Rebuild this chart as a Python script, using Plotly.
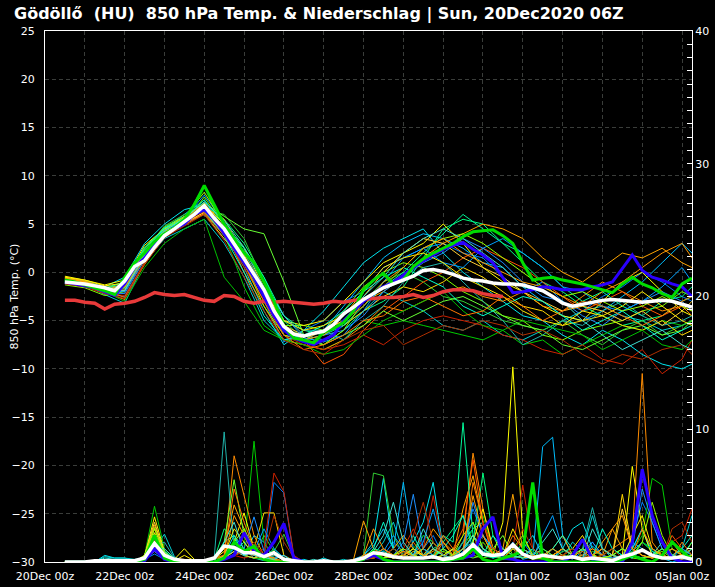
import pandas as pd
import plotly.graph_objects as go

# ensemble chart: 850 hPa temperature (left axis) + 6h precipitation (right axis)

run_title = "Gödöllő\u00a0\u00a0(HU)\u00a0\u00a0850 hPa Temp. & Niederschlag | Sun, 20Dec2020 06Z"
y_title = "850 hPa Temp. (°C)"

# time axes: 6-hourly for the highlighted runs, 12-hourly for the members
times6 = pd.date_range("2020-12-20 12:00", "2021-01-05 06:00", freq="6h")
times12 = list(pd.date_range("2020-12-20 12:00", "2021-01-05 00:00", freq="12h")) + [pd.Timestamp("2021-01-05 06:00")]

member_colors = ["#00bfff", "#0080ff", "#00e5ee", "#00ced1", "#00ff7f", "#00cc00", "#32cd32",
                 "#7cfc00", "#ffff00", "#ffd700", "#ffa500", "#ff8c00", "#ff5500", "#cc2200",
                 "#00fa9a", "#1e90ff", "#20b2aa", "#00c000", "#66ff33", "#ffcc33",
                 "#00a0ff", "#00ffcc", "#99ff00", "#ffee00", "#ff9900", "#ff7700", "#b03000", "#40e0d0"]

member_temp = [
    [-0.8, -1.1, -1.9, -1.5, 2.0, 4.5, 6.0, 7.5, 4.5, 1.5, -2.0, -6.5, -7.0, -6.0, -3.5, -1.0, 1.5, 3.0, 4.0, 3.5, 2.5, 1.0, 0.5, -1.5, -3.0, -4.5, -5.0, -4.0, -2.5, -1.0, 1.0, 3.0, 2.0],
    [-1.2, -1.4, -2.2, -2.5, 1.0, 4.0, 5.0, 6.0, 3.5, 1.0, -3.0, -7.2, -6.0, -5.0, -3.0, -2.0, 0.5, 1.5, 2.5, 3.0, 2.0, 1.5, -0.5, -2.0, -1.0, -3.0, -4.0, -2.5, -1.5, 0.0, -1.0, -2.5, -3.0],
    [-0.6, -0.9, -1.5, -0.5, 3.0, 5.0, 6.5, 7.0, 4.0, 0.5, -4.0, -7.5, -6.0, -4.0, -1.5, 1.0, 2.5, 3.5, 4.5, 2.0, 0.0, -1.5, -3.0, -4.5, -5.0, -6.5, -7.5, -6.0, -7.0, -8.5, -9.5, -10.0, -9.5],
    [-1.0, -1.3, -2.3, -3.2, 1.0, 3.5, 4.5, 5.5, 3.0, -0.5, -5.0, -7.0, -6.5, -7.0, -5.5, -4.0, -2.0, -3.0, -4.0, -5.5, -6.0, -5.0, -6.5, -7.0, -6.0, -5.0, -4.0, -3.5, -4.5, -5.0, -6.0, -5.5, -5.0],
    [-0.9, -1.0, -1.6, -1.0, 2.5, 4.5, 5.5, 7.0, 5.5, 3.0, -0.5, -5.0, -7.0, -7.5, -6.0, -4.0, -3.0, -1.5, 1.5, 4.5, 5.5, 5.0, 3.0, 1.0, -1.0, -2.0, -3.5, -4.5, -5.5, -5.0, -4.5, -3.0, -2.5],
    [-1.1, -1.5, -2.0, -1.5, 2.0, 4.2, 5.5, 9.0, 4.0, -1.5, -5.5, -7.0, -7.5, -8.0, -7.0, -5.0, -5.5, -5.0, -5.5, -6.0, -6.5, -7.0, -6.0, -7.5, -7.0, -8.5, -7.5, -6.5, -5.5, -6.0, -5.0, -5.5, -5.0],
    [-0.7, -1.2, -1.8, -1.2, 2.2, 4.8, 6.0, 6.5, 6.0, 3.5, -1.0, -5.5, -7.0, -6.5, -5.0, -3.0, -1.0, 0.0, -1.0, -2.5, -3.0, -4.0, -5.0, -5.5, -6.0, -5.0, -6.5, -7.5, -6.0, -5.0, -6.5, -5.5, -5.0],
    [-1.3, -1.6, -2.4, -2.0, 1.5, 4.0, 5.0, 7.8, 4.8, 1.5, -2.0, -5.5, -5.5, -6.0, -4.0, -1.5, 0.0, 1.0, 0.5, -0.5, -2.0, -3.0, -4.5, -5.0, -6.5, -7.0, -6.0, -5.5, -5.0, -4.0, -3.5, -2.0, -2.5],
    [-0.4, -0.8, -1.3, -0.8, 2.8, 4.5, 5.8, 7.0, 5.0, 2.5, -1.5, -5.0, -5.5, -5.0, -3.0, -1.0, 1.0, 2.0, 3.0, 5.0, 3.0, 0.5, -1.0, -2.0, -3.5, -4.5, -5.0, -3.0, -1.0, 0.0, -2.0, -4.0, -4.5],
    [-0.6, -1.0, -1.7, -1.6, 1.8, 4.0, 5.2, 6.0, 3.5, 1.0, -2.5, -6.0, -6.5, -6.0, -5.5, -4.0, -2.5, -1.5, -2.0, -1.0, 0.5, -0.5, -2.0, -3.5, -4.0, -5.5, -5.0, -4.5, -5.5, -6.0, -5.0, -6.5, -6.0],
    [-0.5, -0.9, -1.6, -1.3, 1.5, 4.3, 5.0, 6.8, 5.5, 2.0, -1.5, -5.5, -7.0, -6.0, -5.0, -3.0, -2.0, -0.5, 1.5, 3.0, 4.0, 5.0, 4.5, 3.5, 1.5, 0.0, -1.0, 0.5, 2.0, 1.5, 2.5, 1.0, 0.5],
    [-0.8, -1.2, -2.1, -2.8, 1.0, 3.8, 5.5, 7.2, 4.5, 0.0, -3.5, -7.0, -7.5, -8.0, -7.0, -5.5, -3.5, -4.0, -3.0, -2.0, -1.5, -2.5, -3.0, -2.0, -3.5, -4.0, -2.5, -1.0, -2.0, -3.0, -4.0, -3.5, -4.5],
    [-1.0, -1.3, -2.0, -1.8, 1.2, 4.0, 5.0, 6.3, 4.2, 1.5, -2.0, -6.0, -7.0, -9.5, -8.5, -6.0, -4.0, -2.5, -1.0, 0.0, 1.5, 2.5, 1.5, 0.5, -1.0, -2.5, -4.0, -3.0, -2.0, -3.5, -4.5, -3.5, -4.0],
    [-1.2, -1.5, -2.2, -2.4, 1.0, 3.6, 5.0, 6.5, 4.0, 0.5, -3.0, -6.5, -7.5, -8.0, -7.5, -6.5, -7.5, -6.0, -5.0, -4.5, -5.0, -5.5, -6.5, -7.0, -8.0, -8.5, -7.5, -9.0, -9.5, -8.0, -10.5, -9.0, -7.0],
    [-0.9, -1.1, -1.7, -1.0, 2.6, 4.6, 5.6, 7.5, 5.0, 2.5, -0.5, -4.5, -6.0, -6.5, -5.5, -3.5, -1.5, 0.0, 2.0, 4.0, 6.0, 4.5, 3.0, 2.0, 0.5, -1.5, -3.0, -2.0, -3.5, -4.5, -3.0, -2.5, -1.5],
    [-1.1, -1.4, -2.1, -2.2, 1.3, 4.1, 5.4, 6.8, 4.5, 1.5, -2.5, -6.0, -7.0, -6.5, -6.0, -4.5, -2.0, -0.5, 1.0, 2.0, 3.5, 2.5, 1.0, -1.0, -2.5, -3.0, -4.5, -5.5, -4.0, -3.0, -2.0, -3.0, -4.0],
    [-0.8, -1.2, -1.9, -1.7, 2.0, 4.4, 5.3, 6.6, 4.7, 2.0, -1.5, -5.0, -6.0, -6.0, -7.0, -5.0, -3.5, -1.0, 0.5, 1.0, -1.0, -3.0, -5.0, -7.5, -6.5, -5.0, -5.5, -4.0, -3.0, -4.5, -5.5, -5.0, -4.5],
    [-1.0, -1.3, -2.0, -3.0, 0.5, 3.0, 4.5, 5.5, -0.5, -3.0, -6.0, -7.0, -7.5, -8.5, -8.0, -6.5, -5.0, -4.0, -3.0, -2.0, -4.0, -5.5, -6.0, -5.0, -5.5, -6.0, -6.5, -8.0, -7.0, -6.0, -7.5, -8.0, -7.0],
    [-0.9, -1.2, -1.8, -1.4, 2.4, 4.7, 5.8, 7.2, 5.8, 4.5, 4.0, -1.0, -6.5, -7.5, -6.5, -5.5, -4.0, -5.0, -4.0, -3.0, -2.5, -3.5, -4.5, -5.5, -6.0, -7.5, -8.0, -7.0, -6.0, -5.5, -6.5, -6.0, -5.0],
    [-0.7, -1.0, -1.6, -1.9, 1.7, 4.2, 5.1, 6.2, 4.0, 1.0, -2.0, -5.5, -6.5, -6.0, -5.0, -2.5, 0.0, 2.0, 3.5, 3.0, 1.5, 0.5, -0.5, -2.0, -3.0, -4.0, -3.5, -4.0, -5.0, -4.0, -5.5, -4.0, -3.0],
    [-1.0, -1.3, -2.0, -2.0, 1.6, 4.3, 5.6, 8.0, 5.2, 2.2, -1.0, -4.5, -6.8, -7.2, -6.5, -4.0, -1.0, 1.5, 2.5, 1.0, 0.5, 2.5, 3.5, 2.0, 0.5, -1.5, -2.0, -3.5, -4.0, -3.0, -1.5, 0.5, -1.0],
    [-0.7, -1.1, -1.8, -1.3, 2.2, 4.6, 5.4, 6.4, 3.8, 0.0, -4.5, -7.0, -6.5, -5.5, -4.0, -2.0, -0.5, 0.5, -0.5, -1.5, -3.5, -4.5, -3.5, -2.5, -3.0, -4.5, -6.0, -5.0, -4.0, -5.5, -7.0, -6.0, -5.5],
    [-0.9, -1.2, -1.9, -1.6, 1.9, 4.4, 5.7, 8.3, 5.0, 1.0, -3.5, -6.5, -7.0, -7.5, -6.0, -3.0, -1.5, 0.5, 2.5, 3.5, 4.0, 3.0, 1.5, 0.0, -1.5, -2.5, -2.0, -3.0, -4.0, -3.5, -2.5, -3.5, -4.0],
    [-0.5, -0.8, -1.4, -1.1, 2.1, 4.1, 5.0, 6.7, 4.6, 1.8, -2.0, -5.0, -6.0, -5.5, -4.5, -2.0, 0.5, 1.5, 2.0, 1.0, -0.5, -1.5, -2.5, -4.0, -5.0, -5.5, -4.0, -4.5, -3.5, -2.0, -3.5, -5.0, -5.5],
    [-0.6, -1.0, -1.7, -1.5, 1.4, 3.9, 5.1, 6.9, 4.4, 1.2, -2.0, -5.5, -7.0, -6.5, -5.0, -3.5, -1.0, 0.5, 2.5, 3.5, 2.0, 1.0, 0.0, -1.0, -1.5, -2.5, -3.5, -2.0, -1.0, 0.5, 2.0, 3.0, 1.5],
    [-0.8, -1.1, -1.8, -2.6, 0.8, 3.7, 4.9, 6.1, 3.8, 0.8, -3.0, -6.5, -8.0, -7.5, -6.5, -5.0, -4.5, -3.0, -2.5, -3.5, -4.5, -4.0, -2.5, -3.5, -5.0, -4.0, -3.0, -3.5, -4.5, -5.5, -4.5, -3.0, -2.5],
    [-1.1, -1.4, -2.2, -2.7, 0.9, 3.6, 4.8, 6.0, 3.3, -0.5, -4.0, -7.0, -8.0, -8.5, -7.0, -6.0, -5.5, -7.5, -6.5, -5.5, -6.0, -5.0, -5.5, -6.5, -6.0, -7.0, -8.5, -9.5, -8.5, -9.0, -8.0, -7.5, -8.5],
    [-0.9, -1.3, -2.0, -1.9, 1.8, 4.3, 5.6, 7.3, 5.4, 2.6, -1.0, -4.5, -6.5, -6.0, -4.5, -2.5, -0.5, 2.0, 3.5, 4.5, 3.5, 2.0, 0.5, -1.5, -2.0, -3.0, -5.0, -6.5, -8.0, -7.0, -6.0, -7.5, -8.0],
]

member_precip = [
    [0, 0, 0, 0, 0, 0, 0, 0, 0.3, 0.8, 0.2, 0, 0, 0, 0, 0,
     0.4, 0.8, 0.5, 2.0, 1.5, 0.3, 0, 0, 0, 0, 0, 0, 0, 0.2, 0.5, 1.2,
     2.5, 1.0, 6.0, 1.0, 0.3, 1.5, 0.5, 0.2, 0.8, 2.0, 1.0, 0.3, 0.5, 1.0, 0.2, 0.4,
     8.7, 9.4, 2.0, 0.5, 0.3, 1.2, 0.5, 0, 0.2, 1.0, 2.5, 0.8, 0.3, 0, 0.2, 0.5],
    [0, 0, 0, 0, 0, 0, 0, 0, 0.2, 0.6, 0.2, 0, 0, 0, 0, 0,
     0.2, 0.6, 0.8, 0.5, 0.5, 6.0, 5.2, 0.4, 0, 0, 0, 0, 0, 0, 0.3, 0.8,
     0.5, 1.5, 0.8, 0.4, 1.0, 2.0, 0.5, 0.2, 1.5, 4.0, 2.0, 1.0, 0.5, 0.3, 1.5, 0.5,
     0.3, 1.0, 0.5, 0.2, 0.8, 1.5, 0.5, 0.2, 0.5, 1.8, 4.5, 3.0, 1.0, 0.4, 0.2, 0.3],
    [0, 0, 0, 0, 0.5, 0.3, 0.3, 0.1, 0.2, 0.8, 0.4, 0.1, 0, 0, 0, 0,
     0.5, 2.0, 1.0, 0.3, 0.2, 0.1, 0, 0, 0.2, 0, 0.3, 0, 0, 0, 0.5, 1.5,
     6.3, 1.0, 0.5, 1.5, 3.0, 6.0, 1.0, 0.5, 1.5, 2.5, 3.0, 1.0, 0.5, 0.3, 1.0, 2.0,
     0.5, 0.3, 1.0, 2.5, 3.0, 1.0, 0.5, 0.2, 0.3, 1.0, 2.5, 0.5, 1.0, 0.3, 0.5, 1.5],
    [0, 0, 0, 0, 0.4, 0.3, 0.3, 0.2, 0.3, 1.0, 2.1, 0.4, 0, 0, 0, 0,
     0.3, 1.0, 0.5, 0.3, 0.1, 0.2, 0, 0, 0, 0, 0, 0, 0.2, 0, 0.2, 0.5,
     1.5, 3.0, 0.8, 0.5, 2.0, 1.5, 0.5, 0.3, 1.0, 1.5, 0.8, 0.3, 0.5, 1.0, 0.5, 0.3,
     1.0, 0.5, 0.3, 1.5, 0.8, 3.5, 1.0, 0.3, 0.5, 0.8, 1.5, 1.0, 0.5, 0.3, 1.0, 3.5],
    [0, 0, 0, 0, 0, 0, 0, 0, 0.5, 2.5, 0.8, 0.2, 0, 0, 0, 0.2,
     2.5, 1.8, 0.5, 0.3, 0.2, 0.1, 0, 0, 0, 0, 0, 0, 0, 0, 0.3, 1.0,
     0.8, 0.5, 1.0, 0.5, 0.3, 1.0, 1.5, 2.5, 3.5, 1.5, 6.7, 2.0, 0.5, 0.3, 0.5, 1.0,
     0.5, 0.3, 0.8, 1.0, 0.5, 0.3, 0.5, 1.0, 0.5, 0.3, 1.5, 0.8, 0.5, 1.0, 0.5, 0.3],
    [0, 0, 0, 0, 0, 0, 0, 0, 0.5, 4.2, 1.0, 0.2, 0, 0, 0, 0.2,
     0.5, 1.0, 1.0, 9.1, 1.5, 0.3, 0, 0, 0, 0, 0, 0, 0, 0, 0.2, 0.5,
     0.5, 0.3, 0.5, 1.0, 2.0, 1.5, 0.5, 0.3, 1.0, 2.5, 3.5, 0.8, 0.3, 0.5, 1.5, 0.8,
     0.3, 0.5, 0.2, 0.8, 0.5, 0.3, 0.2, 0.5, 0.3, 0.8, 2.0, 6.3, 5.8, 1.0, 0.5, 0.2],
    [0, 0, 0, 0, 0, 0, 0, 0, 0.4, 1.8, 0.5, 0.1, 0, 0, 0, 0,
     0.3, 1.2, 0.8, 0.5, 2.0, 0.8, 2.1, 0.3, 0, 0, 0, 0, 0, 0, 0.5, 6.7,
     6.5, 2.0, 0.5, 0.3, 1.0, 0.5, 0.3, 0.5, 1.5, 2.0, 1.0, 0.5, 0.3, 0.2, 0.5, 0.3,
     0.2, 0.5, 1.0, 0.5, 0.3, 0.8, 0.5, 0.2, 0.3, 0.5, 1.0, 0.5, 0.3, 0.2, 0.5, 0.3],
    [0, 0, 0, 0, 0, 0, 0, 0, 0.3, 1.5, 0.4, 0.1, 0, 0, 0, 0,
     0.5, 1.5, 0.5, 0.3, 0.2, 0.1, 0, 0, 0, 0, 0, 0, 0, 0, 0.2, 0.5,
     0.3, 0.5, 1.0, 0.5, 0.3, 0.5, 0.8, 0.5, 1.0, 0.5, 0.3, 0.5, 0.2, 0.3, 0.5, 0.2,
     0.3, 0.2, 0.5, 0.3, 0.2, 0.5, 0.3, 0.2, 0.5, 0.3, 0.2, 0.5, 0.8, 0.3, 0.5, 1.0],
    [0, 0, 0, 0, 0, 0, 0, 0, 0.4, 3.4, 0.8, 0.2, 1.0, 0.2, 0, 0.2,
     0.8, 1.5, 3.7, 1.0, 0.5, 0.2, 0, 0, 0, 0, 0, 0, 0, 0, 0.3, 0.5,
     0.3, 0.5, 0.8, 0.5, 1.0, 0.5, 0.3, 0.5, 1.0, 2.0, 0.5, 0.5, 3.0, 14.7, 2.0, 0.5,
     0.3, 0.5, 0.2, 0.3, 1.0, 0.5, 0.3, 0.2, 0.5, 7.2, 2.5, 0.5, 0.3, 0.2, 0.5, 0.3],
    [0, 0, 0, 0, 0, 0, 0, 0, 0.5, 2.5, 0.6, 0.1, 0, 0, 0, 0,
     0.3, 0.5, 0.8, 1.0, 3.7, 3.7, 0.5, 0.1, 0, 0, 0, 0, 0, 0, 0.2, 0.5,
     1.0, 0.5, 0.3, 0.8, 0.5, 1.5, 0.5, 0.3, 0.5, 0.8, 1.5, 0.5, 0.3, 1.0, 0.5, 0.3,
     0.5, 0.3, 0.5, 1.0, 2.0, 0.5, 0.3, 0.5, 5.1, 1.0, 0.5, 0.3, 0.5, 1.5, 0.5, 0.3],
    [0, 0, 0, 0, 0, 0, 0, 0, 0.4, 2.8, 0.7, 0.2, 0.2, 0, 0, 0.2,
     1.0, 4.3, 2.5, 0.8, 0.3, 0.2, 0, 0, 0, 0, 0, 0, 0, 0.2, 3.1, 1.0,
     0.5, 1.0, 2.0, 1.0, 0.5, 0.8, 1.5, 0.5, 4.0, 6.5, 3.0, 0.5, 1.0, 5.1, 1.0, 0.5,
     0.3, 1.0, 2.0, 0.5, 0.3, 0.5, 1.5, 2.5, 1.0, 0.5, 1.0, 0.5, 0.3, 0.5, 0.3, 0.5],
    [0, 0, 0, 0, 0, 0, 0, 0, 0.3, 2.0, 0.5, 0.1, 0, 0, 0, 0.3,
     0.5, 8.0, 5.0, 2.0, 0.5, 0.2, 0, 0, 0, 0, 0, 0, 0, 0, 0.5, 0.8,
     0.5, 0.3, 0.5, 1.0, 0.5, 0.3, 1.5, 0.8, 2.0, 8.2, 4.0, 1.0, 0.5, 0.3, 0.5, 0.3,
     0.5, 0.3, 0.2, 0.5, 0.8, 0.3, 0.5, 1.0, 1.5, 2.0, 14.2, 1.5, 0.5, 0.3, 0.2, 0.5],
    [0, 0, 0, 0, 0, 0, 0, 0, 0.3, 1.2, 0.4, 0.1, 0, 0, 0, 0,
     0.2, 0.5, 0.8, 0.5, 0.3, 0.5, 0.2, 0, 0, 0, 0, 0, 0, 0, 0.2, 0.3,
     0.5, 0.3, 0.8, 0.5, 0.3, 0.5, 0.3, 1.0, 2.5, 7.7, 3.0, 0.5, 0.3, 0.5, 1.0, 0.5,
     0.3, 0.5, 0.2, 0.3, 0.5, 1.0, 0.5, 0.3, 0.2, 0.5, 1.0, 0.5, 0.3, 2.0, 1.0, 0.5],
    [0, 0, 0, 0, 0, 0, 0, 0, 0.2, 0.8, 0.3, 0, 0, 0, 0, 0,
     0.2, 0.5, 0.3, 0.5, 1.0, 6.7, 5.3, 0.5, 0, 0, 0, 0, 0, 0, 0.2, 0.5,
     0.3, 0.5, 1.0, 2.5, 1.0, 5.0, 1.0, 0.5, 0.3, 0.8, 1.5, 0.5, 0.3, 1.0, 5.8, 1.0,
     0.5, 0.3, 0.5, 1.0, 0.5, 0.3, 0.2, 0.5, 0.3, 0.5, 1.0, 0.5, 0.3, 1.5, 2.0, 4.0],
    [0, 0, 0, 0, 0, 0, 0, 0, 0.4, 1.5, 0.5, 0.1, 0, 0, 0, 0,
     0.3, 0.8, 1.5, 0.5, 0.3, 1.0, 0.3, 0, 0, 0, 0, 0, 0, 0, 0.3, 0.5,
     1.0, 0.5, 0.3, 0.5, 1.0, 0.5, 2.0, 1.5, 10.5, 2.0, 0.5, 0.3, 0.5, 1.0, 0.5, 0.3,
     0.5, 1.0, 0.5, 0.3, 0.5, 0.3, 0.2, 0.5, 1.0, 0.5, 0.3, 0.5, 1.0, 0.5, 0.3, 0.2],
    [0, 0, 0, 0, 0, 0, 0, 0, 0.3, 0.8, 0.3, 0, 0, 0, 0, 0,
     0.2, 0.5, 1.0, 3.4, 0.8, 0.3, 0.5, 0, 0, 0, 0, 0, 0, 0, 0.2, 0.5,
     1.0, 0.5, 1.5, 5.1, 1.0, 0.5, 0.3, 1.0, 0.5, 4.5, 2.0, 1.0, 0.5, 0.3, 0.5, 1.0,
     0.5, 0.3, 1.0, 0.5, 0.3, 1.5, 0.5, 0.3, 0.5, 1.0, 5.5, 3.0, 1.0, 0.5, 0.3, 0.2],
    [0, 0, 0, 0, 0, 0, 0, 0, 0.3, 1.2, 1.5, 0.3, 0, 0, 0, 0.3,
     9.8, 1.0, 0.5, 0.3, 0.2, 0.5, 0.2, 0, 0, 0, 0, 0, 0, 0, 0.3, 0.8,
     0.5, 1.0, 0.5, 0.3, 0.5, 1.0, 0.5, 0.3, 1.5, 3.0, 1.0, 0.5, 0.3, 0.5, 1.0, 0.5,
     0.3, 0.5, 0.3, 0.5, 1.0, 4.1, 1.0, 0.5, 0.3, 0.5, 1.0, 0.5, 0.3, 0.5, 1.0, 0.5],
    [0, 0, 0, 0, 0, 0, 0, 0, 0.3, 1.5, 0.5, 0.1, 0, 0, 0, 0.2,
     0.5, 1.0, 0.5, 0.3, 0.2, 0.3, 0, 0, 0, 0, 0, 0, 0, 0, 0.2, 0.5,
     0.3, 0.5, 1.0, 0.5, 0.3, 0.5, 1.0, 0.5, 0.3, 1.0, 1.5, 0.5, 0.3, 0.5, 1.0, 0.5,
     0.3, 0.5, 1.0, 0.5, 0.3, 0.5, 1.0, 0.5, 0.3, 0.5, 1.5, 1.0, 0.5, 0.3, 0.5, 0.3],
    [0, 0, 0, 0, 0, 0, 0, 0, 0.4, 2.2, 0.6, 0.1, 0, 0, 0, 0.3,
     1.5, 6.2, 2.0, 0.5, 0.3, 0.2, 0, 0, 0, 0, 0, 0, 0, 0, 0.3, 0.8,
     0.5, 0.3, 0.5, 1.0, 0.5, 0.3, 0.5, 1.0, 0.5, 0.3, 0.5, 1.0, 2.0, 0.5, 0.3, 0.5,
     1.0, 0.5, 0.3, 0.5, 1.0, 0.5, 0.3, 0.5, 1.0, 0.5, 0.3, 0.5, 1.0, 0.5, 0.3, 1.5],
    [0, 0, 0, 0, 0, 0, 0, 0, 0.5, 3.0, 0.7, 0.1, 0, 0, 0, 0,
     0.3, 0.8, 0.5, 0.3, 0.5, 0.3, 0, 0, 0, 0, 0, 0, 0, 0, 0.2, 0.5,
     0.3, 0.5, 1.0, 0.5, 0.3, 1.0, 0.5, 0.3, 0.5, 1.0, 2.0, 0.5, 1.0, 0.5, 0.3, 0.5,
     0.3, 0.5, 1.0, 0.5, 0.3, 0.5, 1.0, 0.5, 4.0, 1.0, 0.5, 0.3, 0.5, 1.0, 0.5, 0.3],
    [0, 0, 0, 0, 0, 0, 0, 0, 0.3, 1.0, 0.3, 0, 0, 0, 0, 0,
     0.5, 1.0, 0.5, 0.8, 2.5, 1.0, 0.3, 0, 0, 0, 0, 0, 0, 0, 0.3, 0.5,
     0.8, 2.0, 1.0, 0.5, 1.5, 4.0, 1.0, 0.5, 0.3, 1.0, 2.0, 1.0, 0.5, 1.5, 0.5, 0.3,
     2.0, 3.5, 1.0, 0.5, 0.3, 0.5, 1.0, 0.5, 0.3, 1.5, 1.0, 0.5, 0.3, 0.5, 1.0, 0.5],
    [0, 0, 0, 0, 0, 0, 0, 0, 0.4, 1.8, 0.8, 0.2, 0, 0, 0, 0.2,
     1.5, 2.0, 0.5, 1.0, 0.3, 0.2, 0, 0, 0, 0, 0, 0, 0, 0, 0.2, 1.0,
     3.0, 1.0, 0.5, 2.0, 0.5, 0.3, 1.0, 2.0, 3.5, 1.0, 0.5, 2.0, 1.0, 0.5, 0.3, 1.0,
     0.5, 1.0, 2.0, 1.0, 0.5, 0.3, 2.5, 1.0, 0.5, 0.3, 1.0, 0.5, 0.3, 0.5, 1.0, 2.0],
    [0, 0, 0, 0, 0, 0, 0, 0, 0.5, 2.6, 0.7, 0.1, 0, 0, 0, 0,
     0.3, 1.5, 2.5, 1.0, 0.5, 0.8, 0.3, 0, 0, 0, 0, 0, 0, 0, 0.2, 0.5,
     0.3, 0.5, 1.0, 0.5, 0.3, 0.5, 1.0, 0.5, 2.0, 3.0, 1.0, 0.5, 0.3, 1.0, 2.0, 0.5,
     0.3, 0.5, 1.0, 0.5, 0.3, 0.5, 0.3, 0.5, 1.0, 0.5, 1.5, 4.5, 2.0, 0.5, 0.3, 0.5],
    [0, 0, 0, 0, 0, 0, 0, 0, 0.3, 2.2, 0.5, 0.1, 0.5, 0.1, 0, 0,
     0.5, 2.5, 1.5, 0.5, 0.3, 0.2, 0, 0, 0, 0, 0, 0, 0, 0, 0.2, 0.3,
     0.5, 0.3, 0.5, 1.0, 0.5, 0.3, 0.5, 1.0, 0.5, 1.5, 4.0, 1.0, 0.5, 2.5, 1.0, 0.5,
     0.3, 0.5, 1.0, 0.5, 0.3, 0.5, 1.0, 0.5, 0.3, 2.0, 3.5, 1.0, 0.5, 0.3, 0.5, 0.3],
    [0, 0, 0, 0, 0, 0, 0, 0, 0.4, 1.6, 0.4, 0.1, 0, 0, 0, 0,
     0.3, 3.5, 2.0, 0.5, 0.3, 0.2, 0, 0, 0, 0, 0, 0, 0, 0, 0.5, 2.5,
     1.0, 0.5, 0.3, 0.5, 1.0, 2.5, 1.5, 0.5, 1.0, 5.0, 2.0, 0.5, 0.3, 1.0, 0.5, 0.3,
     0.5, 1.0, 0.5, 0.3, 0.5, 1.0, 0.5, 2.5, 3.5, 1.0, 0.5, 0.3, 0.5, 1.0, 0.5, 0.3],
    [0, 0, 0, 0, 0, 0, 0, 0, 0.3, 1.4, 0.4, 0, 0, 0, 0, 0.2,
     0.5, 5.5, 3.0, 1.0, 0.5, 0.3, 0, 0, 0, 0, 0, 0, 0, 0, 0.3, 0.5,
     1.0, 0.5, 0.3, 1.5, 0.5, 0.3, 2.0, 1.0, 0.5, 6.0, 3.0, 1.0, 0.5, 2.0, 1.0, 0.5,
     0.3, 0.5, 1.0, 0.5, 0.3, 0.5, 1.0, 0.5, 0.3, 0.5, 2.5, 1.0, 0.5, 0.3, 1.5, 0.5],
    [0, 0, 0, 0, 0, 0, 0, 0, 0.2, 0.9, 0.3, 0, 0, 0, 0, 0,
     0.2, 0.5, 0.8, 1.5, 0.5, 3.5, 1.5, 0.3, 0, 0, 0, 0, 0, 0, 0.2, 0.3,
     0.5, 1.0, 0.5, 2.0, 4.5, 1.5, 0.5, 0.3, 0.5, 1.0, 3.0, 1.0, 0.5, 0.3, 2.5, 1.0,
     0.5, 0.3, 0.5, 1.0, 0.5, 0.3, 0.5, 1.0, 0.3, 0.5, 1.0, 0.5, 0.3, 2.5, 3.0, 1.5],
    [0, 0, 0, 0, 0.3, 0.2, 0.2, 0.1, 0.3, 1.0, 1.0, 0.3, 0, 0, 0, 0,
     1.5, 3.0, 0.8, 0.5, 0.3, 0.2, 0.5, 0, 0, 0.2, 0, 0, 0, 0, 0.3, 0.8,
     2.0, 4.5, 1.5, 0.5, 2.5, 1.0, 0.5, 0.3, 1.0, 2.0, 1.0, 0.5, 0.3, 0.5, 1.0, 0.5,
     1.5, 2.5, 1.0, 0.5, 0.3, 2.5, 1.0, 0.5, 0.3, 0.5, 1.0, 0.5, 1.5, 0.5, 0.3, 1.0],
]

# ensemble mean (white), control run (green), operational run (blue), 6-hourly
mean_temp = [-1.0, -1.1, -1.2, -1.4, -1.6, -1.9, -0.9, 0.6, 1.2, 2.6,
             3.8, 4.5, 5.2, 6.0, 6.9, 5.6, 4.5, 3.0, 1.4, -0.2,
             -1.8, -4.0, -5.6, -6.4, -6.6, -6.3, -6.1, -5.4, -4.3, -3.6,
             -2.8, -2.2, -1.6, -1.2, -0.8, -0.4, 0.2, 0.3, 0.1, -0.2,
             -0.6, -0.8, -0.9, -1.1, -1.2, -1.2, -1.3, -1.6, -1.9, -2.5,
             -3.2, -3.5, -3.3, -3.1, -2.9, -2.8, -2.9, -3.0, -3.1, -3.0,
             -2.9, -3.0, -3.3, -3.6]
control_temp = [-0.8, -1.0, -1.3, -1.6, -1.9, -2.3, -0.5, 1.0, 2.0, 3.2,
                4.0, 4.6, 5.5, 7.0, 9.0, 7.0, 5.0, 3.5, 2.0, 1.0,
                -1.0, -3.0, -5.5, -6.8, -7.0, -7.3, -6.2, -5.8, -5.2, -4.0,
                -1.8, -0.8, -0.1, -1.2, -0.8, 0.6, 1.4, 2.0, 2.5, 3.0,
                3.7, 4.2, 4.3, 4.4, 3.8, 3.0, 1.0, -0.8, -0.6, -0.5,
                -0.8, -1.0, -1.2, -1.5, -1.8, -2.1, -1.2, -0.5, -1.2, -1.6,
                -2.2, -2.6, -1.2, -0.6]
oper_temp = [-1.0, -1.2, -1.4, -1.6, -2.0, -2.4, -1.2, 0.5, 1.5, 2.8,
             3.9, 4.5, 5.0, 6.0, 6.5, 5.5, 4.0, 2.5, 1.0, -0.5,
             -2.5, -4.5, -6.0, -6.8, -7.2, -7.5, -7.0, -6.5, -5.0, -4.0,
             -3.0, -2.2, -1.5, -1.0, -0.3, 0.5, 1.2, 1.8, 2.4, 2.8,
             3.1, 2.4, 1.8, 1.0, -0.5, -2.1, -2.0, -1.8, -1.5, -1.6,
             -1.8, -1.8, -1.8, -1.5, -1.3, -1.0, 0.4, 1.8, 0.2, -0.5,
             -0.8, -1.2, -1.5, -2.5]
# red reference line, 20Dec 12z .. 31Dec 12z
ref_temp = [-2.9, -2.9, -3.1, -3.2, -3.8, -3.3, -3.2, -3.0, -2.6, -2.1,
            -2.3, -2.4, -2.3, -2.6, -2.9, -3.0, -2.4, -2.5, -3.0, -3.2,
            -3.0, -3.1, -3.0, -3.1, -3.2, -3.3, -3.2, -3.0, -3.1, -2.9,
            -2.8, -2.7, -2.6, -2.6, -2.5, -2.3, -2.6, -2.4, -2.0, -1.8,
            -1.8, -1.9, -2.2, -2.4, -2.5]

mean_precip = [0, 0, 0, 0.1, 0.1, 0.1, 0.1, 0.1, 0.3, 1.4,
               0.5, 0.2, 0.1, 0.1, 0.1, 0.3, 1.2, 1.1, 0.7, 0.7,
               0.4, 0.7, 0.2, 0.1, 0, 0, 0.1, 0, 0, 0.1,
               0.3, 0.7, 0.6, 0.4, 0.3, 0.3, 0.3, 0.4, 0.2, 0.3,
               0.6, 1.3, 0.6, 0.5, 0.6, 1.3, 0.6, 0.3, 0.5, 0.4,
               0.3, 0.4, 0.2, 0.3, 0.2, 0.1, 0.4, 0.6, 0.9, 0.5,
               0.3, 0.3, 0.4, 0.2]
control_precip = [0, 0, 0, 0, 0, 0, 0, 0, 0.2, 2.0,
                  0.3, 0, 0, 0, 0, 0, 0.3, 1.5, 0.8, 1.2,
                  0.2, 0, 0, 0, 0, 0, 0, 0, 0, 0,
                  0.2, 0.8, 0.2, 0, 0, 0, 0, 0, 0, 0.2,
                  0.3, 1.0, 0.2, 0, 0.3, 0.5, 0.8, 6.0, 0.3, 0,
                  0, 0, 0, 0, 0, 0, 0.2, 0.5, 0.2, 0,
                  0.5, 1.5, 0.8, 0.2]
oper_precip = [0, 0, 0, 0, 0, 0, 0, 0, 0.1, 1.0,
               0.2, 0, 0, 0, 0, 0, 0.2, 0.5, 2.2, 0.8,
               0.5, 1.5, 2.9, 0.3, 0, 0, 0, 0, 0, 0,
               0.2, 0.5, 0.2, 0, 0, 0, 0, 0, 0, 0.2,
               0.3, 0.5, 2.5, 3.4, 0.3, 0.2, 0, 0, 0, 0,
               0, 0.5, 1.7, 0.2, 0, 0, 0, 1.5, 7.0, 3.5,
               1.5, 0.3, 0, 0]

fig = go.Figure()

for col, pv in zip(member_colors, member_precip):
    fig.add_trace(go.Scatter(x=times6, y=pv, yaxis="y2", mode="lines",
                             line=dict(color=col, width=1), hoverinfo="skip"))
for col, tv in zip(member_colors, member_temp):
    fig.add_trace(go.Scatter(x=times12, y=tv, mode="lines",
                             line=dict(color=col, width=1), hoverinfo="skip"))

fig.add_trace(go.Scatter(x=times6[:len(ref_temp)], y=ref_temp, mode="lines",
                         line=dict(color="#e83a3a", width=3.5)))
fig.add_trace(go.Scatter(x=times6, y=oper_precip, yaxis="y2", mode="lines",
                         line=dict(color="#2a00ff", width=3)))
fig.add_trace(go.Scatter(x=times6, y=oper_temp, mode="lines",
                         line=dict(color="#2a00ff", width=3)))
fig.add_trace(go.Scatter(x=times6, y=control_precip, yaxis="y2", mode="lines",
                         line=dict(color="#00dd00", width=3)))
fig.add_trace(go.Scatter(x=times6, y=control_temp, mode="lines",
                         line=dict(color="#00dd00", width=3)))
fig.add_trace(go.Scatter(x=times6, y=mean_precip, yaxis="y2", mode="lines",
                         line=dict(color="#ffffff", width=3.5)))
fig.add_trace(go.Scatter(x=times6, y=mean_temp, mode="lines",
                         line=dict(color="#ffffff", width=3.5)))

grid_col = "#3a3d3a"
grid_dash = "4px,3px"
day_ms = 86400000

fig.update_layout(
    width=715, height=587,
    paper_bgcolor="black", plot_bgcolor="black",
    margin=dict(l=45, r=23, t=31, b=25, autoexpand=False),
    showlegend=False,
    font=dict(family="DejaVu Sans", color="white", size=11),
    title=dict(text=run_title, x=14 / 715, xanchor="left", y=1 - 13 / 587, yanchor="middle",
               font=dict(family="DejaVu Sans", size=16, color="white", weight="bold")),
    xaxis=dict(type="date", range=["2020-12-20 00:00", "2021-01-05 06:00"],
               tick0="2020-12-20", dtick=2 * day_ms, tickformat="%d%b %Hz",
               showgrid=True, gridcolor=grid_col, griddash=grid_dash,
               minor=dict(dtick=day_ms, showgrid=True, gridcolor=grid_col, griddash=grid_dash),
               showline=True, linecolor="white", linewidth=1, mirror=True, zeroline=False,
               ticks="outside", ticklen=4, tickcolor="rgba(0,0,0,0)", automargin=False),
    yaxis=dict(range=[-30, 25], dtick=5, showgrid=True, gridcolor=grid_col, griddash=grid_dash,
               zeroline=False, showline=True, linecolor="white", linewidth=1,
               ticks="outside", ticklen=7, tickcolor="rgba(0,0,0,0)", automargin=False),
    yaxis2=dict(range=[0, 40], overlaying="y", side="right", dtick=10, showgrid=False,
                zeroline=False, showline=True, linecolor="white", linewidth=1,
                ticks="inside", ticklen=5, tickcolor="white", automargin=False,
                minor=dict(dtick=1, ticks="inside", ticklen=5, tickcolor="white")),
    annotations=[dict(text=y_title, xref="paper", yref="paper", x=-31 / 647, y=0.5,
                      xanchor="center", yanchor="middle", textangle=-90, showarrow=False,
                      font=dict(size=11, color="white"))],
)

# drop the browser's default body margin so the figure sits at the window corner
fig.write_html("out.html", config={"displayModeBar": False},
               post_script="document.body.style.margin='0';")
